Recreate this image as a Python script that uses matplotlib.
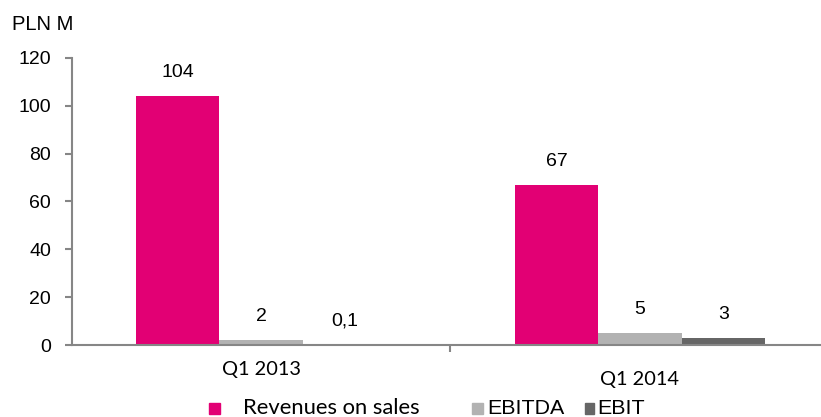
import matplotlib
matplotlib.use("Agg")
import matplotlib.pyplot as plt
from matplotlib.patches import Rectangle
import numpy as np

categories = ["Q1 2013", "Q1 2014"]
series_names = ["Revenues on sales", "EBITDA", "EBIT"]
revenues = [104, 67]
ebitda = [2, 5]
ebit = [0.1, 3]
value_labels = [["104", "67"], ["2", "5"], ["0,1", "3"]]
y_ticks = [0, 20, 40, 60, 80, 100, 120]
unit_label = "PLN M"

colors = ["#E20074", "#B2B2B2", "#666666"]
axis_grey = "#868686"

W, H = 821, 417
fig = plt.figure(figsize=(W / 100, H / 100), dpi=100)
ax = fig.add_axes([72 / W, (H - 345) / H, (W - 72) / W, (345 - 58) / H])

x = np.arange(len(categories))
width = 0.22
offsets = [-width, 0, width]
all_series = [revenues, ebitda, ebit]
for i, (vals, off) in enumerate(zip(all_series, offsets)):
    ax.bar(x + off, vals, width=width, color=colors[i], zorder=2)
    for j, v in enumerate(vals):
        ax.annotate(value_labels[i][j], (x[j] + off, v), xytext=(0, 17),
                    textcoords="offset points", ha="center", va="center",
                    fontsize=14, family="Liberation Sans", color="#000000",
                    bbox=dict(facecolor="white", edgecolor="none", pad=2) if value_labels[i][j] == "0,1" else None,
                    zorder=5, annotation_clip=False)

ax.set_yticks(y_ticks)
ax.set_yticklabels([str(t) for t in y_ticks], fontsize=14, family="Liberation Sans")
ax.set_xticks([-0.5, 0.5])
ax.set_xticklabels([])
ax.set_xlim(-0.4987, 1.4776)
ax.set_ylim(0, 120)
for s in ["top", "right"]:
    ax.spines[s].set_visible(False)
for s in ["left", "bottom"]:
    ax.spines[s].set_color(axis_grey)
    ax.spines[s].set_linewidth(1.5)
ax.tick_params(axis="both", colors=axis_grey, length=5, width=1.5, direction="out")
ax.tick_params(axis="y", labelcolor="#000000", pad=10)
ax.set_facecolor("none")

# category labels
cat_y = [369, 380]
for j, c in enumerate(categories):
    fig.text((261 + 379 * j) / W, 1 - cat_y[j] / H, c, ha="center", va="center",
             fontsize=14.4, family="Lato", color="#000000")

fig.text(12 / W, 1 - 25 / H, unit_label, ha="left", va="center", fontsize=14.5,
         family="Liberation Sans", color="#000000")

# legend
sw = [(209, 403, 11), (472, 403, 11), (585, 403, 9)]
tx = [243, 487, 597]
fams = ["Lato", "Liberation Sans", "Liberation Sans"]
fsz = [15.8, 15.4, 15.4]
for i, name in enumerate(series_names):
    sx, sy, sww = sw[i]
    fig.patches.append(Rectangle((sx / W, 1 - (sy + 11) / H), sww / W, 11 / H,
                                 transform=fig.transFigure, color=colors[i]))
    fig.text(tx[i] / W, 1 - 408 / H, name, ha="left", va="center", fontsize=fsz[i],
             family=fams[i], color="#000000")

fig.savefig("out.png", dpi=100)
